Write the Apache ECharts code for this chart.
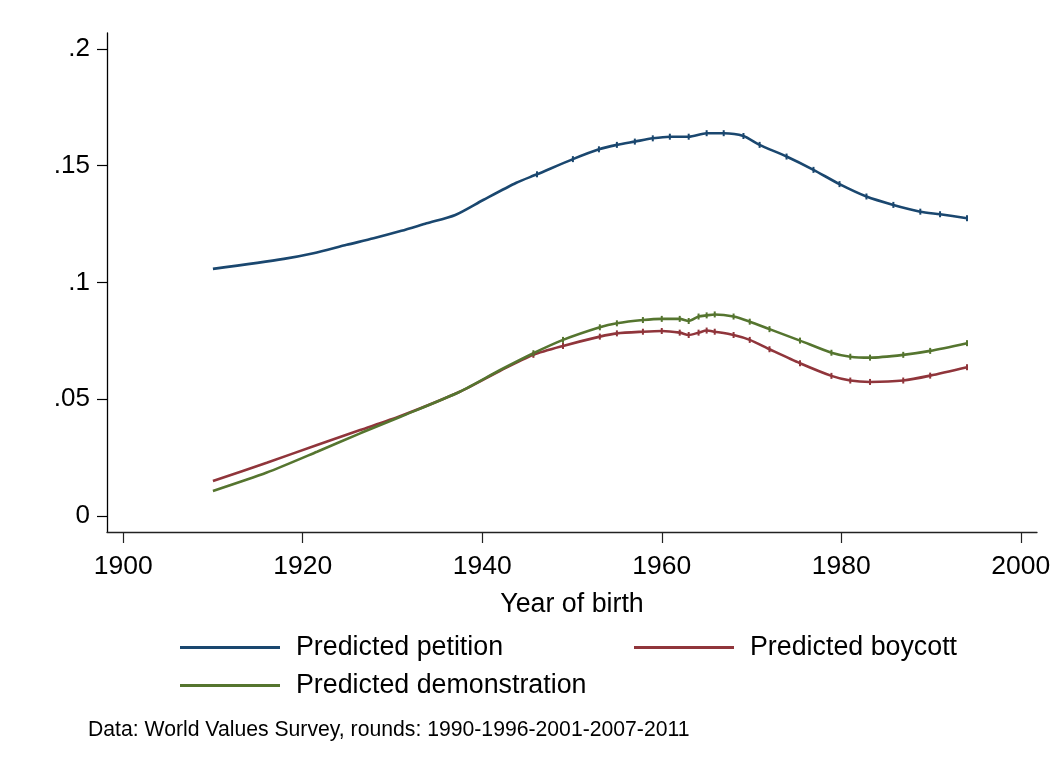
<!DOCTYPE html>
<html>
<head>
<meta charset="utf-8">
<script src="https://cdn.jsdelivr.net/npm/echarts@6/dist/echarts.min.js"></script>
<style>
  html, body { margin: 0; padding: 0; background: #fff; }
  #chart { width: 1055px; height: 768px; }
</style>
</head>
<body>
<div id="chart"></div>
<script>
// ---- data ----
const xTicks = [1900, 1920, 1940, 1960, 1980, 2000];
const yTicks = [0, 0.05, 0.1, 0.15, 0.2];

const petitionYears = [1910.0, 1917.9, 1921.2, 1924.9, 1927.9, 1931.0, 1933.8, 1937.0, 1940.1, 1943.8, 1946.1, 1950.1, 1953.0, 1955.0, 1957.0, 1959.0, 1960.9, 1963.0, 1965.0, 1966.9, 1969.1, 1970.9, 1973.9, 1976.9, 1979.8, 1982.8, 1985.8, 1988.8, 1991.0, 1994.0];
const petitionVals  = [0.1058, 0.1101, 0.1125, 0.1161, 0.1189, 0.1221, 0.1253, 0.1289, 0.1353, 0.1427, 0.1463, 0.1528, 0.1570, 0.1589, 0.1603, 0.1617, 0.1624, 0.1624, 0.1639, 0.1639, 0.1627, 0.1589, 0.1539, 0.1482, 0.1421, 0.1368, 0.1332, 0.1303, 0.1292, 0.1275];

const lowerYears = [1910.0, 1916.0, 1921.6, 1926.4, 1930.9, 1937.5, 1942.0, 1945.7, 1949.0, 1953.1, 1955.0, 1957.9, 1960.0, 1962.0, 1963.0, 1964.1, 1965.0, 1965.9, 1968.0, 1969.8, 1972.0, 1975.4, 1978.9, 1981.0, 1983.2, 1986.9, 1989.9, 1994.0];
const boycottVals = [0.0150, 0.0228, 0.0304, 0.0368, 0.0428, 0.0532, 0.0622, 0.0690, 0.0728, 0.0768, 0.0782, 0.0789, 0.0792, 0.0785, 0.0775, 0.0785, 0.0794, 0.0789, 0.0775, 0.0754, 0.0714, 0.0654, 0.0600, 0.0580, 0.0574, 0.0580, 0.0601, 0.0637];
const demoVals    = [0.0107, 0.0186, 0.0275, 0.0354, 0.0425, 0.0532, 0.0625, 0.0697, 0.0754, 0.0808, 0.0825, 0.0839, 0.0844, 0.0844, 0.0835, 0.0854, 0.0859, 0.0863, 0.0854, 0.0832, 0.0800, 0.0751, 0.0699, 0.0682, 0.0678, 0.0690, 0.0707, 0.0740];

const seriesNames = ['Predicted petition', 'Predicted boycott', 'Predicted demonstration'];
const noteText = 'Data: World Values Survey, rounds: 1990-1996-2001-2007-2011';
const xName = 'Year of birth';

// ---- build ----
const pairs = (xs, ys) => xs.map((x, i) => [x, ys[i]]);
const FONT = '"Liberation Sans", Arial, sans-serif';
const colors = ['#1a476f', '#90353b', '#55752f'];

function lineSeries(name, data, color) {
  return {
    name: name,
    type: 'line',
    data: data,
    smooth: 0.25,
    symbol: 'rect',
    symbolSize: function (v) { return v[0] >= 1945 ? [2, 6] : 0; },
    showSymbol: true,
    itemStyle: { color: color },
    lineStyle: { color: color, width: 2.6 },
    emphasis: { disabled: true },
    animation: false
  };
}

const chart = echarts.init(document.getElementById('chart'), null, { renderer: 'canvas' });
const legendCommon = {
  orient: 'horizontal',
  icon: 'rect',
  itemWidth: 100,
  itemHeight: 3,
  padding: 0,
  selectedMode: false,
  textStyle: { fontFamily: FONT, fontSize: 26.8, color: '#000', padding: [0, 0, 0, 11] }
};
chart.setOption({
  backgroundColor: '#fff',
  textStyle: { fontFamily: FONT },
  grid: { left: 107, right: 18, top: 33, bottom: 236, containLabel: false },
  xAxis: {
    type: 'value',
    min: 1898.2,
    max: 2001.8,
    name: xName,
    nameLocation: 'middle',
    nameGap: 59,
    nameTextStyle: { fontFamily: FONT, fontSize: 26.8, color: '#000' },
    axisLine: { onZero: false, lineStyle: { color: '#222', width: 1.3 } },
    axisTick: { show: true, length: 11, customValues: xTicks, lineStyle: { color: '#222', width: 1.2 } },
    axisLabel: {
      customValues: xTicks, margin: 21, fontFamily: FONT, fontSize: 26.5, color: '#000',
      formatter: function (v) { return String(Math.round(v)); }
    },
    splitLine: { show: false }
  },
  yAxis: {
    type: 'value',
    min: -0.00685,
    max: 0.2068,
    axisLine: { show: true, onZero: false, lineStyle: { color: '#000', width: 1.3 } },
    axisTick: { show: true, length: 10, customValues: yTicks, lineStyle: { color: '#000', width: 1.2 } },
    axisLabel: {
      customValues: yTicks, margin: 17, fontFamily: FONT, fontSize: 26, color: '#000',
      formatter: function (v) { return v === 0 ? '0' : String(+v.toFixed(3)).replace(/^0\./, '.'); }
    },
    splitLine: { show: false }
  },
  legend: [
    Object.assign({}, legendCommon, { data: [seriesNames[0]], left: 180, top: 634 }),
    Object.assign({}, legendCommon, { data: [seriesNames[1]], left: 634, top: 634 }),
    Object.assign({}, legendCommon, { data: [seriesNames[2]], left: 180, top: 672 })
  ],
  graphic: [{
    type: 'text', left: 88, top: 720,
    style: { text: noteText, fontFamily: FONT, fontSize: 21.2, fill: '#000' }
  }],
  series: [
    lineSeries(seriesNames[0], pairs(petitionYears, petitionVals), colors[0]),
    lineSeries(seriesNames[1], pairs(lowerYears, boycottVals), colors[1]),
    lineSeries(seriesNames[2], pairs(lowerYears, demoVals), colors[2])
  ]
});
</script>
</body>
</html>
